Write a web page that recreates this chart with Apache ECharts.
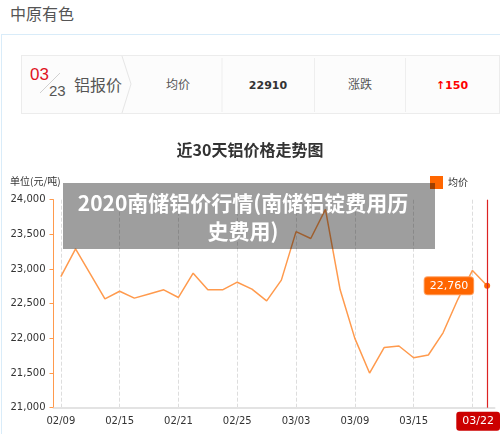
<!DOCTYPE html>
<html lang="zh">
<head>
<meta charset="UTF-8">
<title>近30天铝价格走势图</title>
<script src="https://cdn.jsdelivr.net/npm/echarts@6/dist/echarts.min.js"></script>
<style>
    body { margin: 0; width: 500px; height: 434px; overflow: hidden; position: relative; background: #fff; font-family: "Noto Sans CJK SC", sans-serif; }
    .head { position: absolute; left: 0; top: 0; }
    #main { position: absolute; left: 0; top: 0; width: 500px; height: 434px; }
    .banner { position: absolute; left: 63px; top: 183px; width: 372px; height: 66px; box-sizing: border-box; padding: 5px 22px 0 10px; background: rgba(0, 0, 0, 0.38); color: #fff; font-weight: bold; font-size: 21px; line-height: 28px; text-align: center; z-index: 5; }
</style>
</head>
<body>
    <svg class="head" width="500" height="434">
        <rect x="1.5" y="34.5" width="520" height="420" fill="none" stroke="#d9ecf9"/>
        <text x="10" y="20" font-size="16" fill="#555">中原有色</text>
        <rect x="21.5" y="55.5" width="478" height="58" fill="#fcfcfc" stroke="#ececec"/>
        <text x="30" y="80" font-size="17" fill="#e0141e" font-family="Liberation Sans">03</text>
        <line x1="40" y1="93" x2="60" y2="73" stroke="#d0d0d0"/>
        <text x="49" y="96" font-size="15" fill="#555" font-family="Liberation Sans">23</text>
        <text x="74" y="91" font-size="16" fill="#555">铝报价</text>
        <polyline points="122,56 131,84 122,113" fill="none" stroke="#e6e6e6"/>
        <text x="178" y="89" font-size="12" fill="#555" text-anchor="middle">均价</text>
        <line x1="222" y1="58" x2="222" y2="112" stroke="#eee"/>
        <text x="268" y="89" font-size="11" font-weight="bold" fill="#333" text-anchor="middle" font-family="DejaVu Sans">22910</text>
        <line x1="314.5" y1="58" x2="314.5" y2="112" stroke="#eee"/>
        <text x="360" y="89" font-size="12" fill="#555" text-anchor="middle">涨跌</text>
        <line x1="405.5" y1="58" x2="405.5" y2="112" stroke="#eee"/>
        <text x="452" y="89" font-size="11" font-weight="bold" fill="#f00" text-anchor="middle" font-family="DejaVu Sans">↑150</text>
    </svg>
    <div id="main"></div>
    <div class="banner">2020南储铝价行情(南储铝锭费用历史费用)</div>

    <script type="text/javascript">
        var dates = ['02/09', '02/10', '02/12', '02/13', '02/15', '02/16', '02/18', '02/19', '02/21', '02/22',
            '02/23', '02/24', '02/25', '02/26', '02/28', '03/01', '03/03', '03/04', '03/06', '03/08',
            '03/09', '03/10', '03/12', '03/13', '03/15', '03/16', '03/18', '03/19', '03/21', '03/22'];
        var prices = [22890, 23290, 22930, 22570, 22680, 22580, 22640, 22700, 22590, 22940,
            22700, 22700, 22810, 22710, 22540, 22840, 23540, 23440, 23860, 22700,
            22000, 21500, 21870, 21890, 21720, 21760, 22080, 22560, 22980, 22760];
        var yMin = 21000, yMax = 24000, yStep = 500;
        var last = dates.length - 1;

        var myChart = echarts.init(document.getElementById('main'));
        var option = {
            animation: false,
            textStyle: { fontFamily: 'DejaVu Sans' },
            title: {
                text: '近30天铝价格走势图',
                left: 'center',
                top: 137,
                textStyle: { fontSize: 16, fontWeight: 'bold', color: '#333', fontFamily: 'Noto Sans CJK SC' }
            },
            legend: {
                data: [{ name: '均价', itemStyle: { color: '#ff6600' } }],
                left: 430,
                top: 176,
                padding: 0,
                icon: 'rect',
                itemWidth: 13,
                itemHeight: 13,
                textStyle: { fontSize: 10, color: '#333', fontFamily: 'Noto Sans CJK SC' }
            },
            graphic: [{
                type: 'text',
                left: 10,
                top: 176,
                style: { text: '单位(元/吨)', fontSize: 10, fill: '#333', fontFamily: 'Noto Sans CJK SC' }
            }],
            grid: { left: 53.5, right: 5.5, top: 199.7, bottom: 26.3 },
            xAxis: {
                type: 'category',
                data: dates,
                boundaryGap: true,
                axisLine: { lineStyle: { color: '#e3e3e3', width: 2 } },
                axisTick: { show: false },
                axisLabel: { interval: 3, color: '#333', fontSize: 10, margin: 9 },
                splitLine: { show: true, interval: 3, alignWithLabel: true, lineStyle: { type: 'dashed', color: '#ddd' } },
                axisPointer: {
                    show: true,
                    type: 'line',
                    value: dates[last],
                    status: 'show',
                    triggerTooltip: false,
                    lineStyle: { color: '#dd2222', width: 1.2, type: 'solid' },
                    label: { show: true, backgroundColor: '#cc0000', color: '#fff', fontSize: 11, padding: [4, 6], margin: 4 }
                }
            },
            yAxis: {
                type: 'value',
                min: yMin,
                max: yMax,
                interval: yStep,
                axisLine: { show: true, lineStyle: { color: '#ff9a4d' } },
                axisTick: { show: true, length: 4, lineStyle: { color: '#ff9a4d' } },
                axisLabel: { color: '#333', fontSize: 10, margin: 8 },
                splitLine: { show: false }
            },
            series: [{
                name: '均价',
                type: 'line',
                data: prices,
                symbol: 'none',
                lineStyle: { color: '#ff9a4d', width: 1.5 },
                itemStyle: { color: '#ff9a4d' },
                markPoint: {
                    symbol: 'circle',
                    symbolSize: 6,
                    itemStyle: { color: '#ff6600' },
                    label: {
                        show: true,
                        position: 'left',
                        distance: 11,
                        formatter: function(p) { return echarts.format.addCommas(p.value); },
                        color: '#fff',
                        fontSize: 11,
                        backgroundColor: '#ff6600',
                        borderColor: '#ffa060',
                        borderWidth: 1,
                        borderRadius: 3,
                        padding: [3, 5]
                    },
                    data: [{ coord: [dates[last], prices[last]], value: prices[last] }]
                }
            }]
        };
        myChart.setOption(option);
        window.onresize = myChart.resize;
    </script>
</body>
</html>
